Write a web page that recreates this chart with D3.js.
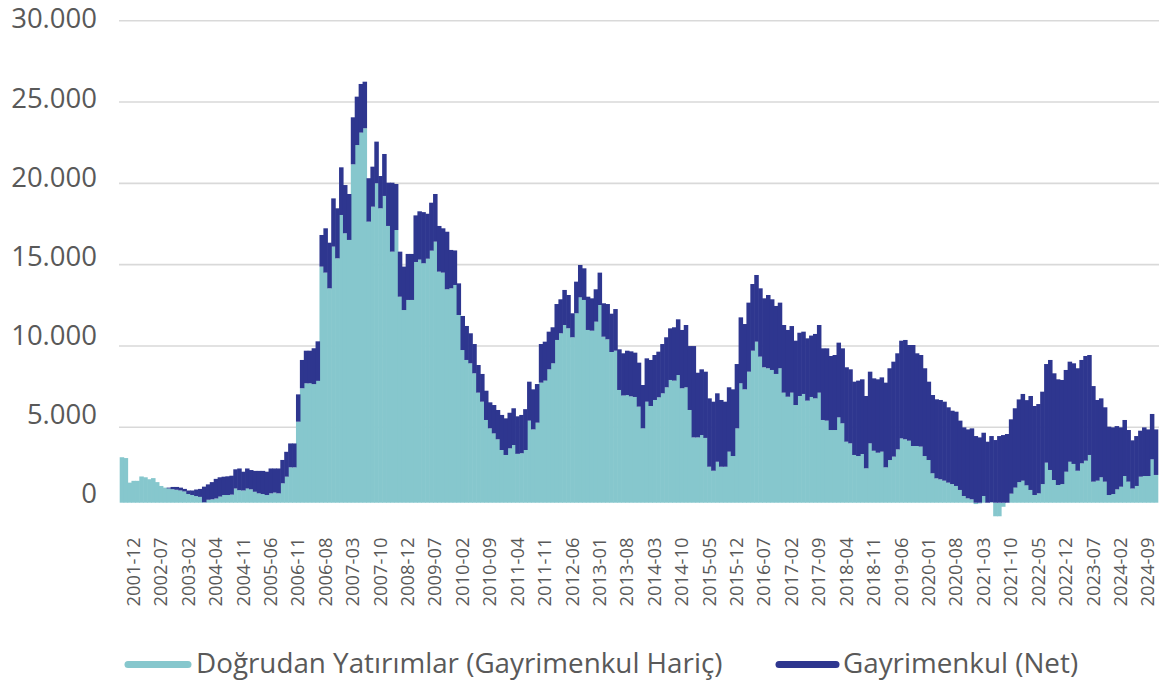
<!DOCTYPE html>
<html><head><meta charset="utf-8">
<script src="https://cdn.jsdelivr.net/npm/d3@7"></script>
<style>body{margin:0;background:#fff} svg{display:block}</style>
</head><body><svg id="c" width="1159" height="687"></svg>
<script>
// Doğrudan Yatırımlar (Gayrimenkul Hariç) – light series
const fdi = [
3015,2960,1330,1450,1450,1740,1685,1555,1630,1365,1110,1000,
940,895,855,810,745,575,510,440,385,
25,195,225,280,405,510,510,535,940,830,
810,940,885,725,620,575,510,620,670,620,
1285,1725,2345,2345,5345,7400,7705,7705,7655,7855,
14880,14510,13545,16110,15390,18055,16930,16520,21170,22355,
23120,23385,17645,18565,20005,18465,19225,17380,15800,17130,
13030,12210,12830,12830,15165,15310,15085,15365,15860,16415,
14570,14510,13485,13545,13750,11905,9750,9140,8935,8320,
7130,6575,5450,4930,4595,4205,3495,3165,3605,3825,
3240,3280,3495,5410,4860,5285,7745,7870,8565,8935,
10370,10780,11290,11090,10535,12010,12990,12830,10985,10940,
11495,12520,10570,10410,9630,9710,7295,6955,6985,6905,
6865,6270,4930,6575,6310,6680,6845,7090,7460,7910,
7870,8215,7400,7460,6065,4330,4330,4485,4295,2385,
2120,2715,2385,2385,3385,3095,4930,7705,7335,8420,
9710,10265,9345,8690,8630,8525,8280,8630,7130,6880,
7130,6370,6925,7050,6640,6865,6780,7130,5450,5410,
4820,4820,5610,5245,4045,3935,3165,3095,3230,2280,
3935,3445,3315,3385,2345,2830,3055,3535,4265,4205,
4110,3760,3760,3720,3095,2830,1950,1615,1550,1460,
1330,1235,1110,845,445,290,225,-90,-45,445,
0,35,-900,-900,-270,0,600,1000,1365,1460,
1150,845,510,620,1235,2655,2170,1505,1175,1235,
2055,2715,2570,2120,2610,2785,3165,1395,1460,1685,
1395,510,575,885,1060,1770,1395,940,1110,1725,
1770,1770,2875,1840
];
// Gayrimenkul (Net) – dark series
const realEstate = [
0,0,0,0,0,0,0,0,0,0,0,0,
60,150,190,190,170,235,300,435,530,
1040,1020,1140,1300,1280,1215,1240,1255,1275,1440,
1245,1330,1280,1385,1490,1535,1545,1650,1600,1650,
1550,1650,1585,1585,1680,1740,2005,2005,2205,2430,
1945,2725,2805,2965,3075,2930,2965,2825,2890,2975,
2990,2865,2670,2460,2560,1985,2580,2660,4240,2830,
2770,2670,2830,2830,2865,2970,3145,2765,2950,2930,
2810,2725,3540,2360,2125,1945,2095,2090,1845,1800,
1700,1705,1800,1605,1775,1860,2265,2385,2290,2345,
2435,2480,2620,2395,2475,2375,2375,2395,2315,2215,
2210,2090,2155,2045,1475,1945,1990,1945,2045,1990,
1990,1990,2055,2170,2355,2560,2500,2595,2725,2765,
2725,2705,2670,2665,2830,2765,2805,3030,3075,3175,
3280,3425,3585,3830,3930,5665,4025,4080,4125,4395,
4455,4375,4295,4190,4075,4240,3960,4055,4015,4245,
4100,4100,4200,4240,4505,4345,4180,4035,4160,4105,
4095,3955,3890,3830,3830,3775,3960,4160,4405,4445,
4565,4625,4595,4610,4645,4630,4640,4775,4720,4645,
4485,4565,4635,4685,5400,5800,5980,6015,6060,6165,
5950,6300,5790,5725,5535,4975,5035,5105,5130,5115,
4900,4785,4850,4565,4550,4570,4705,4420,4330,4195,
4045,4385,4155,4420,4485,4555,4890,5170,5350,5590,
5520,6080,5800,5810,5955,6235,6970,6815,6775,6675,
6470,6320,6365,6510,6530,6600,6280,6140,5220,5095,
4835,4530,4420,4190,3935,3680,3425,3195,3310,3050,
3225,3090,2945,3020
];
const tickLabels = ["2001-12","2002-07","2003-02","2004-04","2004-11","2005-06","2006-11","2006-08","2007-03","2007-10","2008-12","2009-07","2010-02","2010-09","2011-04","2011-11","2012-06","2013-01","2013-08","2014-03","2014-10","2015-05","2015-12","2016-07","2017-02","2017-09","2018-04","2018-11","2019-06","2020-01","2020-08","2021-03","2021-10","2022-05","2022-12","2023-07","2024-02","2024-09"];
const yTicks = [0,5000,10000,15000,20000,25000,30000];
const seriesKeys = ["fdi","re"];
const seriesNames = ["Doğrudan Yatırımlar (Gayrimenkul Hariç)","Gayrimenkul (Net)"];
const colors = ["#86C7CD","#2E368F"];

const n = fdi.length;
const rows = d3.range(n).map(i => ({i, fdi: fdi[i], re: realEstate[i]}));
const svg = d3.select("#c");

const x = d3.scaleBand().domain(d3.range(n)).range([119.7, 1157.7]).padding(0);
const y = d3.scaleLinear().domain([0, 5000, 30000]).range([502.7, 427.3, 20.7]);
const yLab = d3.scaleLinear().domain([0, 30000]).range([493, 18]);
const color = d3.scaleOrdinal().domain(seriesKeys).range(colors);
const loc = d3.formatLocale({decimal: ",", thousands: ".", grouping: [3], currency: ["", ""]});
const fmt = loc.format(",.0f");

// gridlines
svg.append("g").selectAll("line").data(yTicks.filter(d => d > 0)).join("line")
  .attr("x1", 119).attr("x2", 1159)
  .attr("y1", d => y(d)).attr("y2", d => y(d))
  .attr("stroke", "#D9D9D9").attr("stroke-width", 1.6);

// stacked bars
const stack = d3.stack().keys(seriesKeys).offset(d3.stackOffsetDiverging);
const series = stack(rows);
svg.append("g").selectAll("g").data(series).join("g")
  .attr("fill", d => color(d.key))
  .selectAll("rect").data(d => d).join("rect")
  .attr("x", d => x(d.data.i))
  .attr("width", x.bandwidth() + 0.6)
  .attr("y", d => y(Math.max(d[0], d[1])))
  .attr("height", d => Math.abs(y(d[0]) - y(d[1])));

// y axis labels
const yAxis = svg.append("g").attr("transform", "translate(97,0)")
  .call(d3.axisLeft(yLab).tickValues(yTicks).tickFormat(fmt).tickSize(0).tickPadding(0));
yAxis.select(".domain").remove();
yAxis.selectAll("text").attr("fill", "#595959").attr("font-family", "'Open Sans', sans-serif")
  .attr("font-size", "27.5px").attr("dy", "0.36em");

// x axis labels
const xAxis = svg.append("g").attr("transform", "translate(0,537.5)")
  .call(d3.axisBottom(x).tickValues(d3.range(3, n, 7)).tickFormat((d, i) => tickLabels[i]).tickSize(0));
xAxis.select(".domain").remove();
xAxis.selectAll("text")
  .attr("fill", "#595959").attr("font-family", "'Open Sans', sans-serif").attr("font-size", "18.4px")
  .attr("text-anchor", "end").attr("transform", "rotate(-90)")
  .attr("x", 0).attr("y", 0).attr("dy", "0.35em");

// legend
const legendPos = [{sx: 128, ex: 188, tx: 196}, {sx: 779, ex: 836, tx: 843}];
const lg = svg.append("g").selectAll("g").data(seriesNames).join("g");
lg.append("line")
  .attr("x1", (d, i) => legendPos[i].sx).attr("x2", (d, i) => legendPos[i].ex)
  .attr("y1", 664.5).attr("y2", 664.5)
  .attr("stroke", (d, i) => colors[i]).attr("stroke-width", 7).attr("stroke-linecap", "round");
lg.append("text")
  .attr("x", (d, i) => legendPos[i].tx).attr("y", 672.5)
  .attr("fill", "#595959").attr("font-family", "'Open Sans', sans-serif").attr("font-size", "27.8px")
  .text(d => d);
</script>
</body></html>
